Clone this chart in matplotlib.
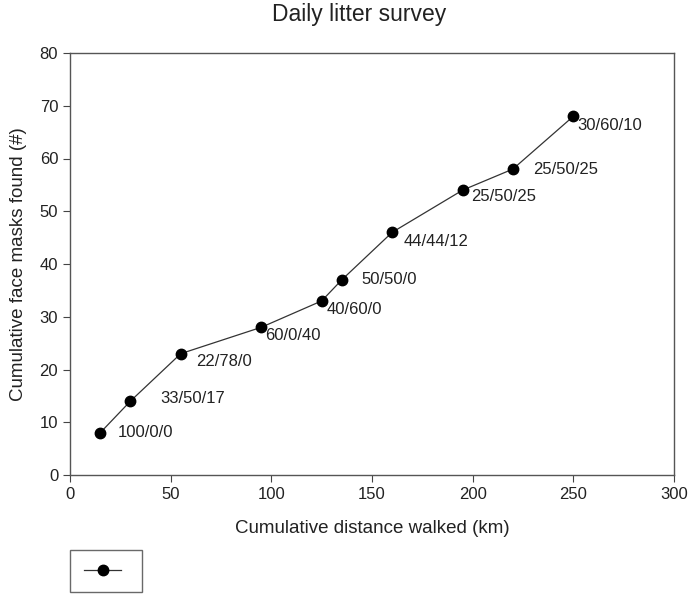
import matplotlib.pyplot as plt
from matplotlib.lines import Line2D

plt.rcParams['font.family'] = ['Liberation Sans', 'DejaVu Sans']

distance = [15, 30, 55, 95, 125, 135, 160, 195, 220, 250]
masks = [8, 14, 23, 28, 33, 37, 46, 54, 58, 68]
labels = ['100/0/0', '33/50/17', '22/78/0', '60/0/40', '40/60/0',
          '50/50/0', '44/44/12', '25/50/25', '25/50/25', '30/60/10']
# label offsets in pixels (dx, dy)
offsets = [(18, 0), (30, 3), (15, -8), (4, -8), (5, -9),
           (20, 0), (11, -9), (9, -6), (20, 0), (4, -9)]

txt = '#222222'
fig = plt.figure(figsize=(6.89, 5.95), dpi=100)
ax = fig.add_axes([70/689, 1-475/595, (674-70)/689, (475-53)/595])

ax.plot(distance, masks, color='#333333', lw=0.9, marker='o', ms=7.5,
        mfc='black', mec='black')
for x, y, s, (dx, dy) in zip(distance, masks, labels, offsets):
    ax.annotate(s, (x, y), xytext=(dx, dy), textcoords='offset pixels',
                ha='left', va='center', fontsize=12, color=txt)

ax.set_xlim(0, 300)
ax.set_ylim(0, 80)
ax.set_xticks(range(0, 301, 50))
ax.set_yticks(range(0, 81, 10))
ax.tick_params(direction='out', length=5, labelsize=12, colors='#444444',
               labelcolor=txt, top=False, right=False)
for sp in ax.spines.values():
    sp.set_color('#555555')
    sp.set_linewidth(1.0)

ax.set_xlabel('Cumulative distance walked (km)', fontsize=13.5, color=txt, labelpad=13)
ax.set_ylabel('Cumulative face masks found (#)', fontsize=13.5, color=txt, labelpad=9)
fig.text(359/689, 1-14/595, 'Daily litter survey', ha='center', va='center',
         fontsize=16.5, color=txt)

handle = Line2D([], [], color='#333333', lw=0.9, marker='o', ms=7.5,
                mfc='black', mec='black')
leg = fig.legend([handle], [''], loc='lower left',
                 bbox_to_anchor=(70/689, 1-592/595), frameon=True,
                 fancybox=False, edgecolor='#444444', handlelength=2.7,
                 borderpad=1.0, handletextpad=0.5, borderaxespad=0)
leg.get_frame().set_linewidth(1.0)

fig.savefig('out.png', dpi=100)
